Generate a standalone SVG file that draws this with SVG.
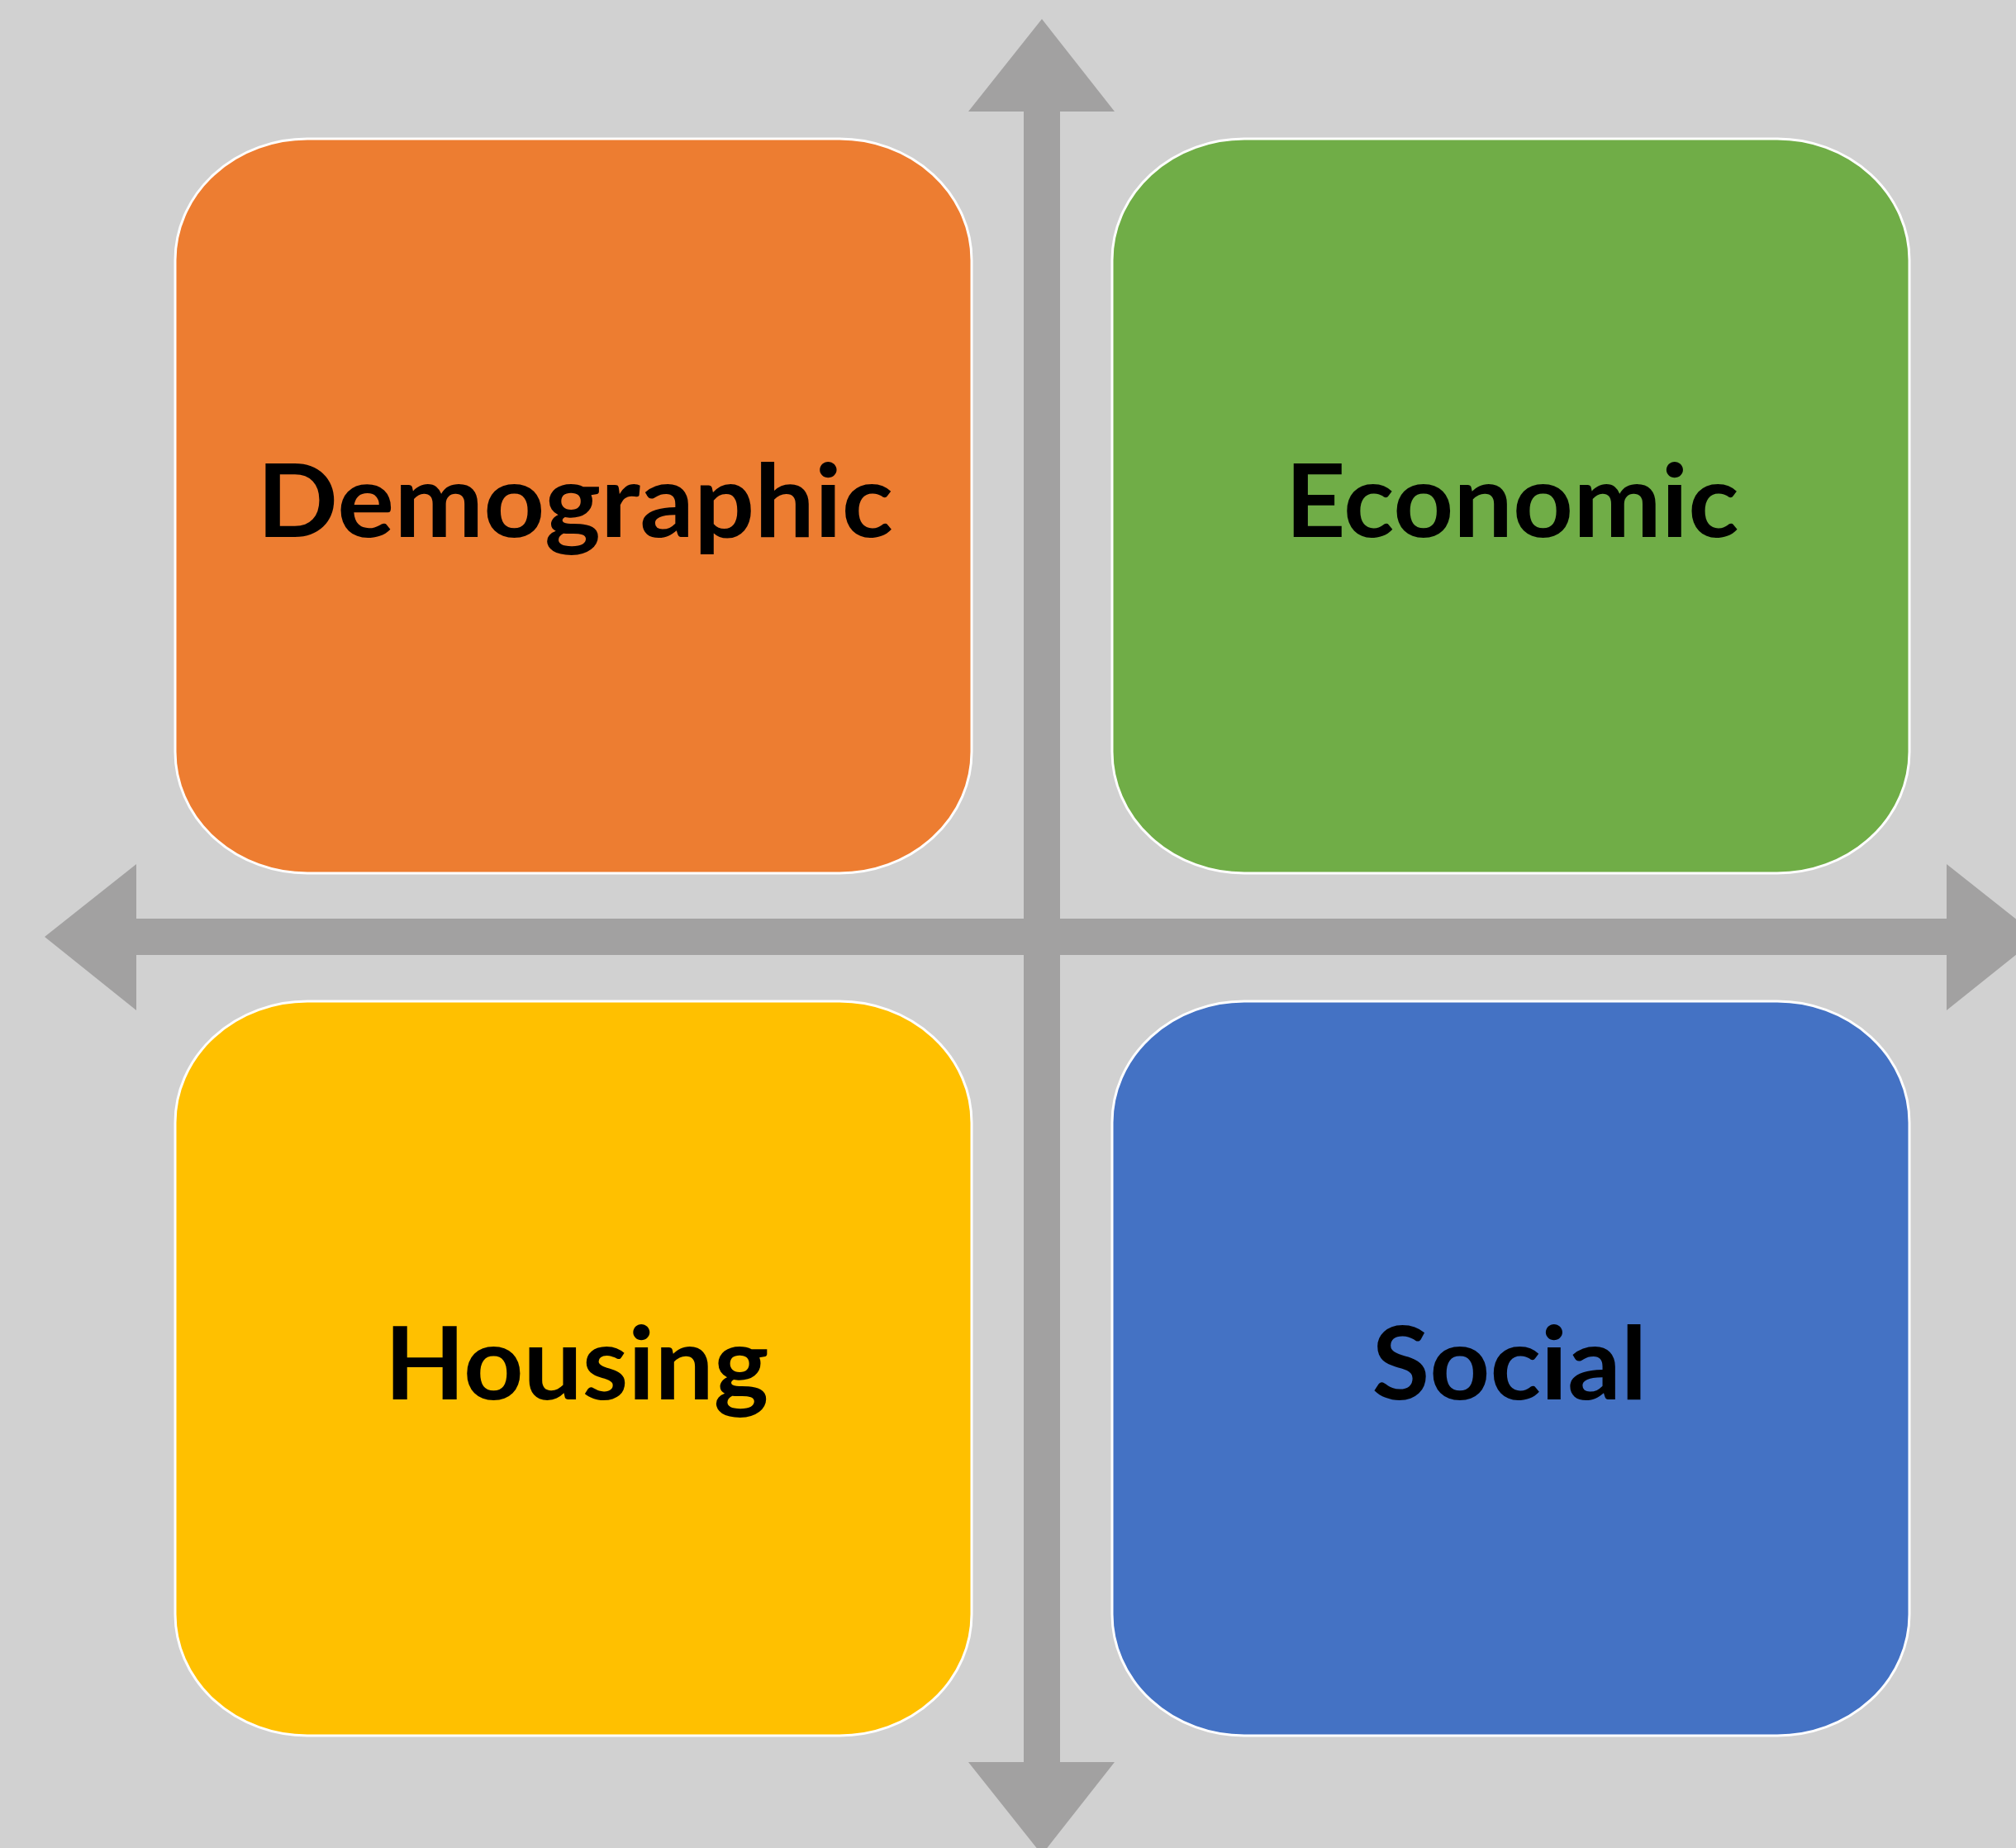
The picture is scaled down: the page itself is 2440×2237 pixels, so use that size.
<svg xmlns="http://www.w3.org/2000/svg" width="2440" height="2237" viewBox="0 0 2440 2237">
<style>
.box{stroke:#FFFFFF;stroke-width:3}
.lbl{font-family:Lato,"Open Sans","Liberation Sans",sans-serif;font-weight:bold;font-size:122px;fill:#000000;text-anchor:middle}
.axis{fill:#A2A1A1}
</style>
<rect width="2440" height="2237" fill="#D1D1D1"/>
<g id="connectors">
<polygon class="axis" points="1261,23 1349,135 1283,135 1283,2133 1349,2133 1261,2245 1172,2133 1239,2133 1239,135 1172,135"/>
<polygon class="axis" points="54,1134 165,1046 165,1112 2356,1112 2356,1046 2467,1134 2356,1223 2356,1156 165,1156 165,1223"/>
</g>
<g id="demographic">
<rect class="box" x="212" y="168" width="964" height="889" rx="160" ry="147" fill="#ED7D31"/>
<text class="lbl" x="696" y="650" textLength="770" lengthAdjust="spacingAndGlyphs">Demographic</text>
</g>
<g id="economic">
<rect class="box" x="1346" y="168" width="965" height="889" rx="160" ry="147" fill="#70AD47"/>
<text class="lbl" x="1830" y="650" textLength="549" lengthAdjust="spacingAndGlyphs">Economic</text>
</g>
<g id="housing">
<rect class="box" x="212" y="1212" width="964" height="889" rx="160" ry="147" fill="#FFC000"/>
<text class="lbl" x="698" y="1694" textLength="465" lengthAdjust="spacingAndGlyphs">Housing</text>
</g>
<g id="social">
<rect class="box" x="1346" y="1212" width="965" height="889" rx="160" ry="147" fill="#4472C4"/>
<text class="lbl" x="1827" y="1694" textLength="333" lengthAdjust="spacingAndGlyphs">Social</text>
</g>
</svg>
